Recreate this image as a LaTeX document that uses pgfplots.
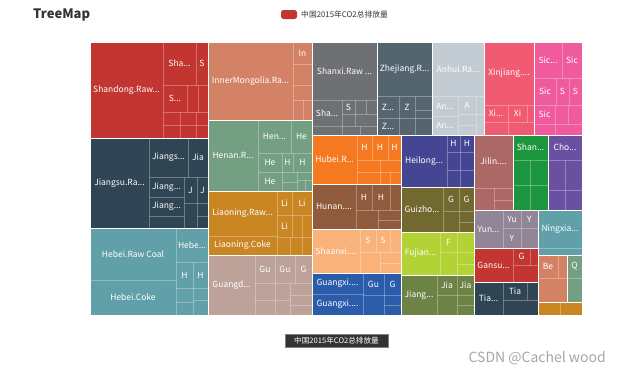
\documentclass[border=0pt]{standalone}
\usepackage{pgfplots}
\pgfplotsset{compat=1.18}
\usepackage{fontspec}
\setmainfont{Noto Sans CJK SC}
\definecolor{c1}{HTML}{C23531}
\definecolor{c2}{HTML}{2F4554}
\definecolor{c3}{HTML}{61A0A8}
\definecolor{c4}{HTML}{D48265}
\definecolor{c5}{HTML}{749F83}
\definecolor{c6}{HTML}{CA8622}
\definecolor{c7}{HTML}{BDA29A}
\definecolor{c8}{HTML}{6E7074}
\definecolor{c9}{HTML}{546570}
\definecolor{c10}{HTML}{C4CCD3}
\definecolor{c11}{HTML}{F05B72}
\definecolor{c12}{HTML}{EF5B9C}
\definecolor{c13}{HTML}{F47920}
\definecolor{c14}{HTML}{905A3D}
\definecolor{c15}{HTML}{FAB27B}
\definecolor{c16}{HTML}{2A5CAA}
\definecolor{c17}{HTML}{444693}
\definecolor{c18}{HTML}{726930}
\definecolor{c19}{HTML}{B2D235}
\definecolor{c20}{HTML}{6D8346}
\definecolor{c21}{HTML}{AC6767}
\definecolor{c22}{HTML}{1D953F}
\definecolor{c23}{HTML}{6950A1}
\definecolor{c24}{HTML}{918597}
\definecolor{txt}{HTML}{333333}
% province block: x1 y1 x2 y2 colour
\newcommand{\prov}[5]{\addplot[fill=#5, draw=none] coordinates {(#1,#2) (#3,#2) (#3,#4) (#1,#4) (#1,#2)};}
\newcommand{\provb}[4]{\addplot[draw=white, line width=1pt, fill=none] coordinates {(#1,#2) (#3,#2) (#3,#4) (#1,#4) (#1,#2)};}
% unlabeled leaf
\newcommand{\lf}[4]{\addplot[draw=white, draw opacity=0.16, line width=0.5pt, fill=none] coordinates {(#1,#2) (#3,#2) (#3,#4) (#1,#4) (#1,#2)};}
% labeled leaf
\newcommand{\lfl}[5]{\lf{#1}{#2}{#3}{#4}\node[font=\fontsize{8.5}{9}\selectfont, text=white, inner sep=0pt] at (axis cs:{(#1+#3)/2},{(#2+#4)/2}) {#5};}
\begin{document}
\begin{tikzpicture}
\begin{axis}[
  scale only axis, width=622pt, height=376pt,
  xmin=0, xmax=622, ymin=0, ymax=376, y dir=reverse,
  hide axis, clip=false, no markers]
\addplot[fill=white, draw=none] coordinates {(0,0) (622,0) (622,376) (0,376) (0,0)};
% provinces
\prov{90}{42}{208}{138}{c1}
\prov{208}{42}{312}{120}{c4}
\prov{208}{120}{312}{191}{c5}
\prov{208}{191}{312}{255}{c6}
\prov{208}{255}{312}{315}{c7}
\prov{90}{138}{208}{228}{c2}
\prov{90}{228}{208}{315}{c3}
\prov{312}{42}{377}{135}{c8}
\prov{377}{42}{432}{135}{c9}
\prov{432}{42}{484}{135}{c10}
\prov{484}{42}{534}{135}{c11}
\prov{534}{42}{582}{135}{c12}
\prov{312}{135}{401}{184}{c13}
\prov{312}{184}{401}{229}{c14}
\prov{312}{229}{401}{273}{c15}
\prov{312}{273}{401}{315}{c16}
\prov{401}{135}{474}{187}{c17}
\prov{401}{187}{474}{232}{c18}
\prov{401}{232}{474}{275}{c19}
\prov{401}{275}{474}{315}{c20}
\prov{474}{135}{513}{210}{c21}
\prov{513}{135}{548}{210}{c22}
\prov{548}{135}{582}{210}{c23}
\prov{474}{210}{538}{248}{c24}
\prov{538}{210}{582}{255}{c3}
\prov{474}{248}{538}{282}{c1}
\prov{474}{282}{538}{315}{c2}
\prov{538}{255}{567}{302}{c4}
\prov{567}{255}{582}{302}{c5}
\prov{538}{302}{582}{315}{c6}
% Shandong
\lfl{90}{42}{163}{138}{Shandong.Raw...}
\lfl{163}{42}{196}{85}{Sha...}
\lfl{196}{42}{208}{85}{S}
\lfl{163}{85}{187}{112}{S...}
\lf{187}{85}{198}{112}\lf{198}{85}{208}{112}\lf{163}{112}{180}{125}\lf{163}{125}{180}{138}
\lf{180}{112}{196}{125}\lf{180}{125}{196}{138}\lf{196}{112}{208}{125}\lf{196}{125}{208}{138}
% Inner Mongolia
\lfl{208}{42}{293}{120}{InnerMongolia.Ra...}
\lfl{293}{42}{312}{64}{In}
\lf{293}{64}{312}{85}\lf{293}{85}{312}{100}\lf{293}{100}{303}{120}\lf{303}{100}{312}{120}
% Henan
\lfl{208}{120}{258}{191}{Henan.R...}
\lfl{258}{120}{291}{153}{Hen...}
\lfl{291}{120}{312}{153}{He}
\lfl{258}{153}{282}{172}{He}
\lfl{282}{153}{293}{172}{H}
\lfl{293}{153}{312}{172}{H}
\lfl{258}{172}{282}{191}{He}
\lf{282}{172}{297}{182}\lf{282}{182}{297}{191}\lf{297}{172}{312}{180}\lf{297}{180}{305}{191}\lf{305}{180}{312}{191}
% Liaoning
\lfl{208}{191}{277}{236}{Liaoning.Raw...}
\lfl{208}{236}{277}{255}{Liaoning.Coke}
\lfl{277}{191}{292}{215}{Li}
\lfl{292}{191}{312}{215}{Li}
\lfl{277}{215}{292}{237}{Li}
\lf{292}{215}{302}{237}\lf{302}{215}{312}{237}\lf{277}{237}{290}{255}\lf{290}{237}{302}{255}\lf{302}{237}{312}{255}
% Guangdong
\lfl{208}{255}{255}{315}{Guangd...}
\lfl{255}{255}{275}{283}{Gu}
\lfl{275}{255}{295}{283}{Gu}
\lfl{295}{255}{312}{283}{G}
\lf{255}{283}{275}{300}\lf{255}{300}{275}{315}\lf{275}{283}{290}{300}\lf{275}{300}{290}{315}
\lf{290}{283}{312}{295}\lf{290}{295}{312}{305}\lf{290}{305}{312}{315}
% Jiangsu
\lfl{90}{138}{149}{228}{Jiangsu.Ra...}
\lfl{149}{138}{188}{177}{Jiangs...}
\lfl{188}{138}{208}{177}{Jia}
\lfl{149}{177}{184}{197}{Jiang...}
\lfl{149}{197}{184}{216}{Jiang...}
\lfl{184}{177}{197}{203}{J}
\lfl{197}{177}{208}{203}{J}
\lf{149}{216}{184}{228}\lf{184}{203}{197}{228}\lf{197}{203}{208}{216}\lf{197}{216}{208}{228}
% Hebei
\lfl{90}{228}{176}{280}{Hebei.Raw Coal}
\lfl{90}{280}{176}{315}{Hebei.Coke}
\lfl{176}{228}{208}{262}{Hebe...}
\lfl{176}{262}{193}{288}{H}
\lfl{193}{262}{208}{288}{H}
\lf{176}{288}{193}{302}\lf{176}{302}{193}{315}\lf{193}{288}{208}{300}\lf{193}{300}{208}{315}
% Shanxi
\lfl{312}{42}{377}{100}{Shanxi.Raw ...}
\lfl{312}{100}{342}{126}{Sha...}
\lfl{342}{100}{355}{114}{S}
\lf{355}{100}{366}{114}\lf{366}{100}{377}{114}\lf{342}{114}{355}{126}\lf{355}{114}{377}{126}
\lf{312}{126}{342}{135}\lf{342}{126}{360}{135}\lf{360}{126}{377}{135}
% Zhejiang
\lfl{377}{42}{432}{96}{Zhejiang.R...}
\lfl{377}{96}{399}{118}{Z...}
\lfl{399}{96}{415}{118}{Z}
\lfl{377}{118}{399}{135}{Z...}
\lf{415}{96}{432}{110}\lf{415}{110}{432}{118}\lf{399}{118}{415}{135}\lf{415}{118}{432}{135}
% Anhui
\lfl{432}{42}{484}{96}{Anhui.Ra...}
\lfl{432}{96}{458}{116}{An...}
\lfl{458}{96}{476}{114}{A}
\lfl{432}{116}{458}{135}{An...}
\lf{476}{96}{484}{114}\lf{458}{114}{476}{125}\lf{458}{125}{476}{135}\lf{476}{114}{484}{135}
% Xinjiang
\lfl{484}{42}{534}{105}{Xinjiang....}
\lfl{484}{105}{508}{122}{Xi...}
\lfl{508}{105}{527}{122}{Xi}
\lf{527}{105}{534}{122}\lf{484}{122}{508}{135}\lf{508}{122}{534}{135}
% Sichuan
\lfl{534}{42}{562}{78}{Sic...}
\lfl{562}{42}{582}{78}{Sic}
\lfl{534}{78}{556}{105}{Sic}
\lfl{556}{78}{569}{105}{S}
\lfl{569}{78}{582}{105}{S}
\lfl{534}{105}{555}{124}{Sic}
\lf{555}{105}{568}{124}\lf{568}{105}{582}{124}\lf{534}{124}{555}{135}\lf{555}{124}{582}{135}
% Hubei
\lfl{312}{135}{357}{184}{Hubei.R...}
\lfl{357}{135}{372}{160}{H}
\lfl{372}{135}{388}{160}{H}
\lfl{388}{135}{401}{160}{H}
\lf{357}{160}{380}{172}\lf{357}{172}{380}{184}\lf{380}{160}{401}{172}\lf{380}{172}{390}{184}\lf{390}{172}{401}{184}
% Hunan
\lfl{312}{184}{356}{229}{Hunan....}
\lfl{356}{184}{372}{210}{H}
\lfl{372}{184}{390}{210}{H}
\lf{390}{184}{401}{210}\lf{356}{210}{378}{229}\lf{378}{210}{401}{220}\lf{378}{220}{401}{229}
% Heilongjiang
\lfl{401}{135}{447}{187}{Heilong...}
\lfl{447}{135}{460}{152}{H}
\lfl{460}{135}{474}{152}{H}
\lf{447}{152}{460}{170}\lf{460}{152}{474}{170}\lf{447}{170}{460}{187}\lf{460}{170}{474}{187}
% Guizhou
\lfl{401}{187}{443}{232}{Guizho...}
\lfl{443}{187}{459}{211}{G}
\lfl{459}{187}{474}{211}{G}
\lf{443}{211}{459}{232}\lf{459}{211}{474}{222}\lf{459}{222}{474}{232}
% Shaanxi
\lfl{312}{229}{360}{273}{Shaanxi....}
\lfl{360}{229}{376}{252}{S}
\lfl{376}{229}{390}{252}{S}
\lf{390}{229}{401}{252}\lf{360}{252}{380}{273}\lf{380}{252}{401}{263}\lf{380}{263}{401}{273}
% Guangxi
\lfl{312}{273}{363}{294}{Guangxi....}
\lfl{312}{294}{363}{315}{Guangxi....}
\lfl{363}{273}{384}{295}{Gu}
\lfl{384}{273}{401}{295}{G}
\lf{363}{295}{384}{315}\lf{384}{295}{401}{305}\lf{384}{305}{401}{315}
% Fujian
\lfl{401}{232}{440}{275}{Fujian...}
\lfl{440}{232}{457}{252}{F}
\lf{457}{232}{474}{252}\lf{440}{252}{457}{275}\lf{457}{252}{474}{264}\lf{457}{264}{474}{275}
% Jiangxi
\lfl{401}{275}{437}{315}{Jiang...}
\lfl{437}{275}{457}{295}{Jia}
\lfl{457}{275}{474}{295}{Jia}
\lf{437}{295}{457}{315}\lf{457}{295}{474}{305}\lf{457}{305}{474}{315}
% Jilin
\lfl{474}{135}{513}{188}{Jilin....}
\lf{474}{188}{494}{210}\lf{494}{188}{513}{200}\lf{494}{200}{513}{210}
% Shanghai
\lfl{513}{135}{548}{160}{Shan...}
\lf{513}{160}{530}{185}\lf{530}{160}{548}{185}\lf{513}{185}{530}{210}\lf{530}{185}{548}{210}
% Chongqing
\lfl{548}{135}{582}{160}{Cho...}
\lf{548}{160}{565}{190}\lf{565}{160}{582}{190}\lf{548}{190}{565}{210}\lf{565}{190}{582}{210}
% Yunnan
\lfl{474}{210}{503}{248}{Yun...}
\lfl{503}{210}{521}{228}{Yu}
\lfl{521}{210}{538}{228}{Y}
\lfl{503}{228}{521}{248}{Y}
\lf{521}{228}{538}{248}
% Ningxia
\lfl{538}{210}{582}{248}{Ningxia...}
\lf{538}{248}{582}{255}
% Gansu
\lfl{474}{248}{513}{282}{Gansu...}
\lfl{513}{248}{530}{265}{G}
\lf{530}{248}{538}{265}\lf{513}{265}{538}{282}
% Tianjin
\lfl{474}{282}{503}{315}{Tia...}
\lfl{503}{282}{527}{300}{Tia}
\lf{527}{282}{538}{300}\lf{503}{300}{538}{315}
% Beijing, Qinghai, Hainan
\lfl{538}{255}{558}{278}{Be}
\lf{558}{255}{567}{278}\lf{538}{278}{567}{302}
\lfl{567}{255}{582}{278}{Q}
\lf{567}{278}{582}{302}
\lf{538}{302}{560}{315}\lf{560}{302}{582}{315}
% province borders
\provb{90}{42}{208}{138}
\provb{208}{42}{312}{120}
\provb{208}{120}{312}{191}
\provb{208}{191}{312}{255}
\provb{208}{255}{312}{315}
\provb{90}{138}{208}{228}
\provb{90}{228}{208}{315}
\provb{312}{42}{377}{135}
\provb{377}{42}{432}{135}
\provb{432}{42}{484}{135}
\provb{484}{42}{534}{135}
\provb{534}{42}{582}{135}
\provb{312}{135}{401}{184}
\provb{312}{184}{401}{229}
\provb{312}{229}{401}{273}
\provb{312}{273}{401}{315}
\provb{401}{135}{474}{187}
\provb{401}{187}{474}{232}
\provb{401}{232}{474}{275}
\provb{401}{275}{474}{315}
\provb{474}{135}{513}{210}
\provb{513}{135}{548}{210}
\provb{548}{135}{582}{210}
\provb{474}{210}{538}{248}
\provb{538}{210}{582}{255}
\provb{474}{248}{538}{282}
\provb{474}{282}{538}{315}
\provb{538}{255}{567}{302}
\provb{567}{255}{582}{302}
\provb{538}{302}{582}{315}
% title, legend, breadcrumb, watermark
\node[font=\fontsize{13}{14}\selectfont\bfseries, text=txt, anchor=west, inner sep=0pt] at (axis cs:33,15) {TreeMap};
\node[fill=c1, rounded corners=2.5pt, minimum width=16pt, minimum height=9pt, inner sep=0pt] at (axis cs:289,14.5) {};
\node[font=\fontsize{7.8}{8}\selectfont, text=txt, anchor=west, inner sep=0pt] at (axis cs:301,14.5) {中国2015年CO2总排放量};
\node[fill=black!80, draw=black!50, minimum width=103pt, minimum height=13pt, inner sep=0pt, font=\fontsize{7.6}{8}\selectfont, text=white] at (axis cs:336.5,340.5) {中国2015年CO2总排放量};
\node[font=\fontsize{14}{15}\selectfont, text=black!35, anchor=east, inner sep=0pt] at (axis cs:606,358.5) {CSDN @Cachel wood};
\end{axis}
\end{tikzpicture}
\end{document}
